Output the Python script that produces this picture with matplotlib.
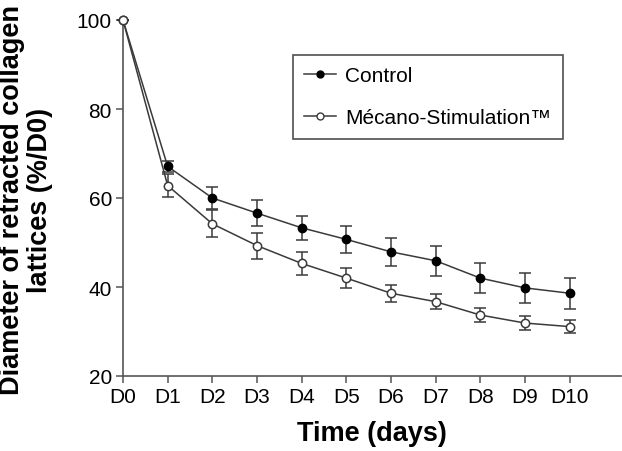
import matplotlib
matplotlib.use("Agg")
import matplotlib.pyplot as plt
from matplotlib.lines import Line2D

plt.rcParams['font.family'] = ['Liberation Sans', 'DejaVu Sans']

days = ['D0', 'D1', 'D2', 'D3', 'D4', 'D5', 'D6', 'D7', 'D8', 'D9', 'D10']
control = [100, 67.1, 60.0, 56.6, 53.3, 50.7, 47.9, 45.9, 42.0, 39.8, 38.6]
control_err = [0, 1.3, 2.4, 2.9, 2.7, 2.95, 3.2, 3.4, 3.3, 3.4, 3.5]
mecano = [100, 62.8, 54.2, 49.3, 45.3, 42.0, 38.6, 36.7, 33.7, 31.9, 31.1]
mecano_err = [0, 2.6, 3.0, 2.9, 2.5, 2.2, 1.9, 1.7, 1.6, 1.5, 1.4]
series_names = ['Control', 'Mécano-Stimulation™']

line_col = '#3a3a3a'
axis_col = '#555555'

fig = plt.figure(figsize=(6.22, 4.52), dpi=100)
ax = fig.add_axes([123 / 622, 1 - 377 / 452, 498 / 622, 356 / 452])

x = list(range(len(days)))
ax.errorbar(x, control, yerr=control_err, color=line_col, marker='o', markersize=6,
            markerfacecolor='black', markeredgecolor='black', lw=1.1, elinewidth=1.1,
            capsize=4, capthick=1.1, clip_on=False, zorder=3)
ax.errorbar(x, mecano, yerr=mecano_err, color=line_col, marker='o', markersize=6,
            markerfacecolor='white', markeredgecolor=line_col, markeredgewidth=1.1,
            lw=1.1, elinewidth=1.1, capsize=4, capthick=1.1, clip_on=False, zorder=3)

ax.set_xlim(0, 11.15)
ax.set_ylim(20, 100)
ax.set_xticks(x)
ax.set_xticklabels(days)
ax.set_yticks([20, 40, 60, 80, 100])

for s in ['top', 'right']:
    ax.spines[s].set_visible(False)
for s in ['left', 'bottom']:
    ax.spines[s].set_color(axis_col)
    ax.spines[s].set_linewidth(1.2)
ax.tick_params(direction='out', length=5, width=1.1, color=axis_col,
               labelsize=15, pad=3)

ax.set_xlabel('Time (days)', fontsize=19.5, fontweight='bold', labelpad=10)
fig.text(26 / 622, 1 - 200 / 452,
         'Diameter of retracted collagen\nlattices (%/D0)',
         rotation=90, ha='center', va='center', multialignment='center',
         fontsize=19.5, fontweight='bold', linespacing=1.1)

# legend handles without the error bars
handles = [
    Line2D([], [], color=line_col, lw=1.1, marker='o', markersize=5,
           markerfacecolor='black', markeredgecolor='black'),
    Line2D([], [], color=line_col, lw=1.1, marker='o', markersize=5,
           markerfacecolor='white', markeredgecolor=line_col),
]
leg = ax.legend(handles, series_names, loc='upper left',
                bbox_to_anchor=((293 - 123) / 498, (377 - 56) / 356),
                borderaxespad=0, fontsize=15, frameon=True, fancybox=False,
                handlelength=1.5, borderpad=0.55, labelspacing=1.1,
                handletextpad=0.45)
leg.get_frame().set_edgecolor('#222222')
leg.get_frame().set_linewidth(1.2)

fig.savefig('out.png', dpi=100)
